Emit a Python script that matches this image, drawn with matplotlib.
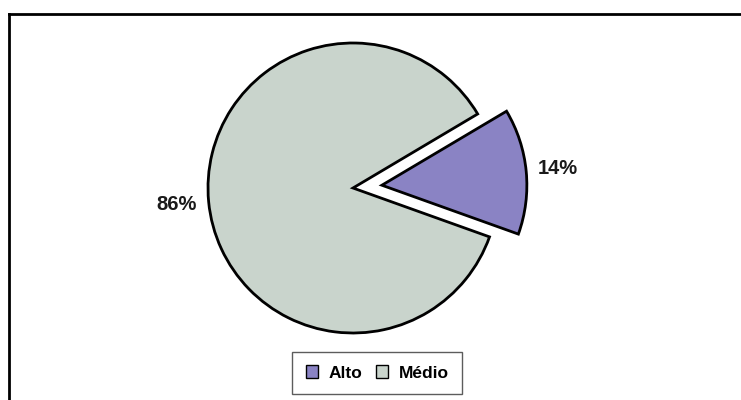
import matplotlib
matplotlib.use("Agg")
import matplotlib.pyplot as plt
from matplotlib.patches import Patch
from matplotlib.lines import Line2D

labels = ["Alto", "Médio"]
shares = [14, 86]
colors = ["#8a83c4", "#c9d4cc"]
explode_frac = [0.2, 0.0]

plt.rcParams["font.family"] = ["Liberation Sans", "DejaVu Sans"]

W, H = 741, 400
R = 145
fig = plt.figure(figsize=(W / 100, H / 100), dpi=100)
fig.patch.set_facecolor("white")

# axes in pixel units so the pie can be placed exactly
ax = fig.add_axes([0, 0, 1, 1])

# pie() applies explode as an absolute offset, so scale it by the radius
wedges, texts, autotexts = ax.pie(
    shares, colors=colors, explode=[e * R for e in explode_frac],
    startangle=-19.7, center=(353, H - 188), radius=R, frame=True,
    autopct="%1.0f%%", pctdistance=1.22,
    wedgeprops=dict(edgecolor="black", linewidth=2),
    textprops=dict(fontsize=14.5, fontweight="bold", color="#1a1a1a"),
)
ax.set_xlim(0, W)
ax.set_ylim(0, H)
ax.set_aspect("equal")
ax.axis("off")

# border lines along the top and left
fig.add_artist(Line2D([9 / W, 9 / W], [0, 1 - 14 / H], color="black", lw=2))
fig.add_artist(Line2D([9 / W, 1], [1 - 14 / H, 1 - 14 / H], color="black", lw=2))

handles = [Patch(facecolor=c, edgecolor="black", lw=1) for c in colors]
leg = fig.legend(handles, labels, loc="center", ncol=2,
                 bbox_to_anchor=(377 / W, 1 - 373 / H),
                 fontsize=12.5, frameon=True, fancybox=False,
                 handlelength=0.7, handleheight=0.7, handletextpad=0.6,
                 columnspacing=0.8, borderpad=0.8)
leg.get_frame().set_edgecolor("#333333")
leg.get_frame().set_linewidth(1)
for t in leg.get_texts():
    t.set_fontweight("bold")

fig.savefig("out.png", dpi=100)
